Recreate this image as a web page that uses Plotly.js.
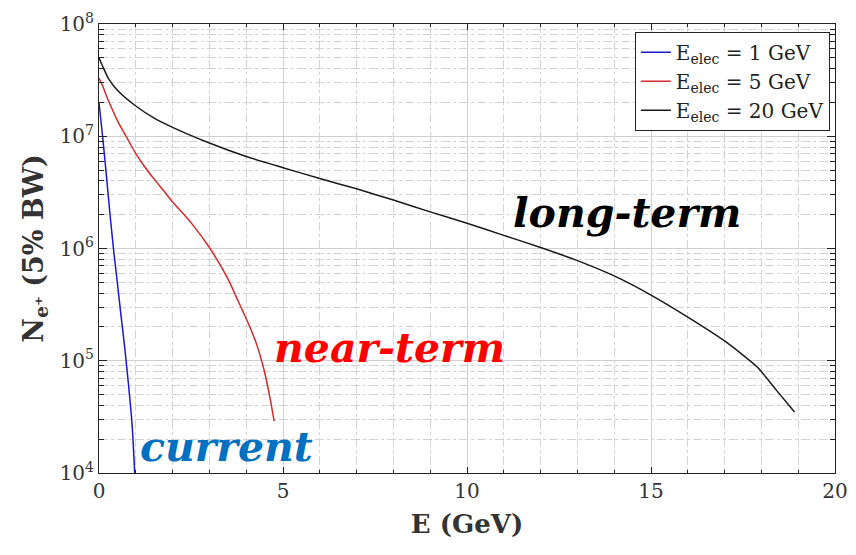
<!DOCTYPE html>
<html>
<head>
<meta charset="utf-8">
<script src="https://cdn.plot.ly/plotly-3.0.1.min.js"></script>
<style>html,body{margin:0;padding:0;background:#fff;}#chart{width:856px;height:555px;}</style>
</head>
<body>
<div id="chart"></div>
<script>
// E_elec = 1 GeV
const x1 = [0, 0.1, 0.2, 0.3, 0.4, 0.5, 0.6, 0.7, 0.8, 0.9, 0.97];
const y1 = [2.0e7, 9.8e6, 4.5e6, 2.0e6, 9.5e5, 4.9e5, 2.5e5, 1.3e5, 6.2e4, 2.7e4, 1.0e4];
// E_elec = 5 GeV
const x5 = [0, 0.1, 0.25, 0.5, 0.75, 1.0, 1.25, 1.5, 1.75, 2.0, 2.5, 3.0, 3.5, 3.8, 4.1, 4.3, 4.5, 4.65, 4.76];
const y5 = [3.3e7, 2.8e7, 2.1e7, 1.38e7, 9.8e6, 7.0e6, 5.3e6, 4.15e6, 3.3e6, 2.6e6, 1.7e6, 1.02e6, 5.4e5, 3.3e5, 2.0e5, 1.35e5, 7.9e4, 4.6e4, 2.9e4];
// E_elec = 20 GeV
const x20 = [0, 0.1, 0.25, 0.5, 1, 1.5, 2, 3, 4, 5, 6, 7, 8, 9, 10, 11, 12, 13, 14, 15, 16, 17, 17.9, 18.4, 18.9];
const y20 = [5.0e7, 4.2e7, 3.3e7, 2.57e7, 1.86e7, 1.45e7, 1.2e7, 8.7e6, 6.6e6, 5.25e6, 4.2e6, 3.4e6, 2.7e6, 2.12e6, 1.68e6, 1.31e6, 1.02e6, 7.8e5, 5.7e5, 3.85e5, 2.45e5, 1.5e5, 8.7e4, 5.5e4, 3.5e4];

const seriesNames = ["E<sub>elec</sub> = 1 GeV", "E<sub>elec</sub> = 5 GeV", "E<sub>elec</sub> = 20 GeV"];
const xTickVals = [0, 5, 10, 15, 20];
const yTickVals = [1e4, 1e5, 1e6, 1e7, 1e8];
const yTickText = ["10<sup>4</sup>", "10<sup>5</sup>", "10<sup>6</sup>", "10<sup>7</sup>", "10<sup>8</sup>"];
const labels = ["long-term", "near-term", "current"];

const serif = "DejaVu Serif, Liberation Serif, serif";

const traces = [
  {x: x1, y: y1, name: seriesNames[0], mode: "lines", line: {color: "#1a1ac8", width: 1.5, shape: "spline", smoothing: 0.6}},
  {x: x5, y: y5, name: seriesNames[1], mode: "lines", line: {color: "#d42a2a", width: 1.5, shape: "spline", smoothing: 0.6}},
  {x: x20, y: y20, name: seriesNames[2], mode: "lines", line: {color: "#1a1a1a", width: 1.5, shape: "spline", smoothing: 0.6}}
];

const layout = {
  width: 856, height: 555,
  margin: {l: 99, r: 21, t: 24, b: 82},
  paper_bgcolor: "#fff", plot_bgcolor: "#fff",
  showlegend: true,
  legend: {x: 0.993, y: 0.983, xanchor: "right", yanchor: "top",
    bgcolor: "#fff", bordercolor: "#222", borderwidth: 1, itemwidth: 30,
    font: {family: serif, size: 20, color: "#222"}, tracegroupgap: 0},
  xaxis: {
    range: [0, 20], tickvals: xTickVals, ticks: "inside", ticklen: 6, tickcolor: "#222",
    showline: true, linecolor: "#222", linewidth: 1, mirror: "allticks",
    showgrid: true, gridcolor: "#d0d0d0", gridwidth: 1, zeroline: false,
    minor: {dtick: 1, ticks: "inside", ticklen: 3, tickcolor: "#222", showgrid: true, gridcolor: "#d3d3d3", griddash: "dashdot", gridwidth: 1},
    tickfont: {family: serif, size: 20, color: "#333"},
    title: {text: "<b>E (GeV)</b>", font: {family: serif, size: 26, color: "#333"}, standoff: 12}
  },
  yaxis: {
    type: "log", range: [4, 8], tickvals: yTickVals, ticktext: yTickText,
    ticks: "inside", ticklen: 8, tickcolor: "#222",
    showline: true, linecolor: "#222", linewidth: 1, mirror: "allticks",
    showgrid: true, gridcolor: "#d0d0d0", gridwidth: 1, zeroline: false,
    minor: {dtick: "D1", ticks: "inside", ticklen: 5, tickcolor: "#222", showgrid: true, gridcolor: "#d3d3d3", griddash: "dashdot", gridwidth: 1},
    tickfont: {family: serif, size: 20, color: "#333"},
    title: {text: "<b>N<sub>e⁺</sub> (5% BW)</b>", font: {family: serif, size: 27, color: "#333"}, standoff: 8}
  },
  annotations: [
    {xref: "paper", yref: "paper", x: 0.717, y: 0.579, xanchor: "center", yanchor: "middle", text: "<b><i>" + labels[0] + "</i></b>", showarrow: false,
     font: {family: serif, size: 41, color: "#000"}},
    {xref: "paper", yref: "paper", x: 0.395, y: 0.278, xanchor: "center", yanchor: "middle", text: "<b><i>" + labels[1] + "</i></b>", showarrow: false,
     font: {family: serif, size: 41, color: "#ff0000"}},
    {xref: "paper", yref: "paper", x: 0.173, y: 0.058, xanchor: "center", yanchor: "middle", text: "<b><i>" + labels[2] + "</i></b>", showarrow: false,
     font: {family: serif, size: 41, color: "#0070c0"}}
  ]
};

Plotly.newPlot("chart", traces, layout, {displayModeBar: false, staticPlot: true});
</script>
</body>
</html>
